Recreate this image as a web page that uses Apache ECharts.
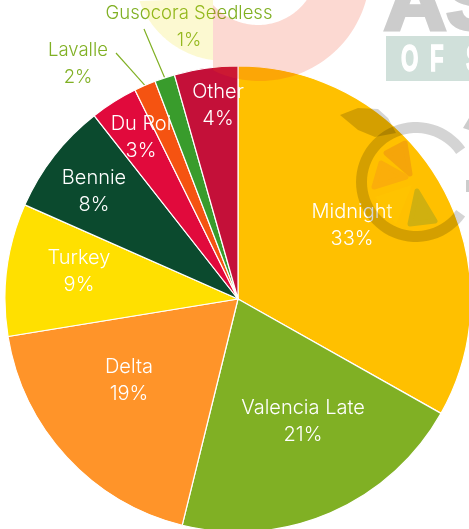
<!DOCTYPE html>
<html><head><meta charset="utf-8">
<style>html,body{margin:0;padding:0;background:#fff;overflow:hidden}#c{width:469px;height:529px}</style>
<script src="https://cdn.jsdelivr.net/npm/echarts@6/dist/echarts.min.js"></script>
</head><body><div id="c"></div>
<script>
var categories = ['Midnight','Valencia Late','Delta','Turkey','Bennie','Du Roi','Lavalle','Gusocora Seedless','Other'];
var values = [33.2,20.7,18.6,9.2,7.8,3.3,1.5,1.4,4.4];
var percentLabels = ['33%','21%','19%','9%','8%','3%','2%','1%','4%'];
var colors = ['#ffc000','#80b024','#ff9429','#ffe000','#0b4a2e','#e10a3c','#f55311','#399c2c','#c41039'];
var labelCentres = [[352,225.5],[303,421.5],[129,380.5],[79,271.5],[94,191.5],[141,137.5],[78,63.5],[189,27],[218,105.5]];
var leaderEnds = {6:[116,53],7:[144,29]};
var F = 'Inter, sans-serif';

function arc(cx,cy,r,a0,a1){var p=[],n=60;for(var i=0;i<=n;i++){var a=(a0+(a1-a0)*i/n)*Math.PI/180;p.push([cx+r*Math.cos(a),cy+r*Math.sin(a)]);}return p;}
function poly(points,fill,opacity){return {type:'polygon',z:100,silent:true,shape:{points:points},style:{fill:fill,opacity:opacity}};}
function wedge(points,fill){return {type:'polygon',z:100,silent:true,shape:{points:points},style:{fill:fill,stroke:fill,lineWidth:5,lineJoin:'round'}};}
function big(t,x,y,size,fill,sx,z,lw){return {type:'text',z:z||99,silent:true,x:x,y:y,scaleX:sx||1,style:{text:t,fill:fill,stroke:fill,lineWidth:lw||0,font:'bold '+size+'px "Liberation Sans"',verticalAlign:'bottom'}};}

var pink = arc(260,-29,110,15,155).filter(function(p){return p[0]>=213;}).concat([[213,70],[213,5]]).concat(arc(258,-35,60,138,36).filter(function(p){return p[1]>=0;}));
pink.push([306,-2],[366,-2]);
var yellow = arc(225,-30,91,160,98).filter(function(p){return p[0]<=213&&p[1]>=-2;});
yellow.push([213,60],[213,-2]);
var ring = arc(416,182,60,35,325).concat(arc(416,182,49,325,35));

var chart = echarts.init(document.getElementById('c'), null, {renderer:'canvas'});
chart.setOption({
  animation:false,
  series:[{
    type:'pie', center:[238,299], radius:[0,233], startAngle:90, clockwise:true, silent:true,
    itemStyle:{borderColor:'#fff',borderWidth:1.2},
    data:categories.map(function(n,i){
      var out = i===6||i===7;
      return {name:n,value:values[i],itemStyle:{color:colors[i]},
        label:{position:out?'outside':'inside',color:out?'#80b024':'#fff',overflow:'none',width:220,
          formatter:n+'\n'+percentLabels[i],fontFamily:F,fontSize:out?18.5:20,fontWeight:300,lineHeight:27,align:'center',verticalAlign:'middle'},
        labelLine:{show:out,length:20,length2:0,lineStyle:{color:'#80b024',width:1.2}}};
    }),
    labelLayout:function(p){
      var c=labelCentres[p.dataIndex], r={x:c[0],y:c[1],align:'center',verticalAlign:'middle',hideOverlap:false};
      var e=leaderEnds[p.dataIndex];
      if(e&&p.labelLinePoints){var s=p.labelLinePoints[0];r.labelLinePoints=[s,[(s[0]+e[0])/2,(s[1]+e[1])/2],e];}
      return r;
    }
  }],
  graphic:{elements:[
    poly(yellow,'#f0e000',0.18),
    poly(pink,'#f04020',0.2),
    big('AS',384,47,82,'#cccccc',1.05,97,4),
    {type:'rect',z:98,silent:true,shape:{x:386,y:36,width:83,height:45},style:{fill:'#d0e0da'}},
    big('O',401,79,36,'#ffffff',0.62,99,1.5),
    big('F',430,79,36,'#ffffff',0.62,99,1.5),
    big('S',466,79,36,'#ffffff',0.62,99,1.5),
    poly(ring,'#000000',0.17),
    poly([[340,115],[358,108],[378,109],[388,118],[396,133],[375,137],[358,130]],'#000000',0.17),
    wedge([[386,153],[405,143],[410,174]],'#f5a50a'),
    wedge([[381,163],[406,177],[374,187]],'#fbae0a'),
    poly([[375,197],[412,185],[396,224]],'#ffd000',0.2),
    wedge([[417,191],[435,221],[410,224]],'#d0b010'),
    poly([[463,128],[469,118],[469,130]],'#cccccc',1),
    {type:'rect',z:98,silent:true,shape:{x:466,y:180,width:3,height:12},style:{fill:'#cccccc'}}
  ]}
});
</script></body></html>
